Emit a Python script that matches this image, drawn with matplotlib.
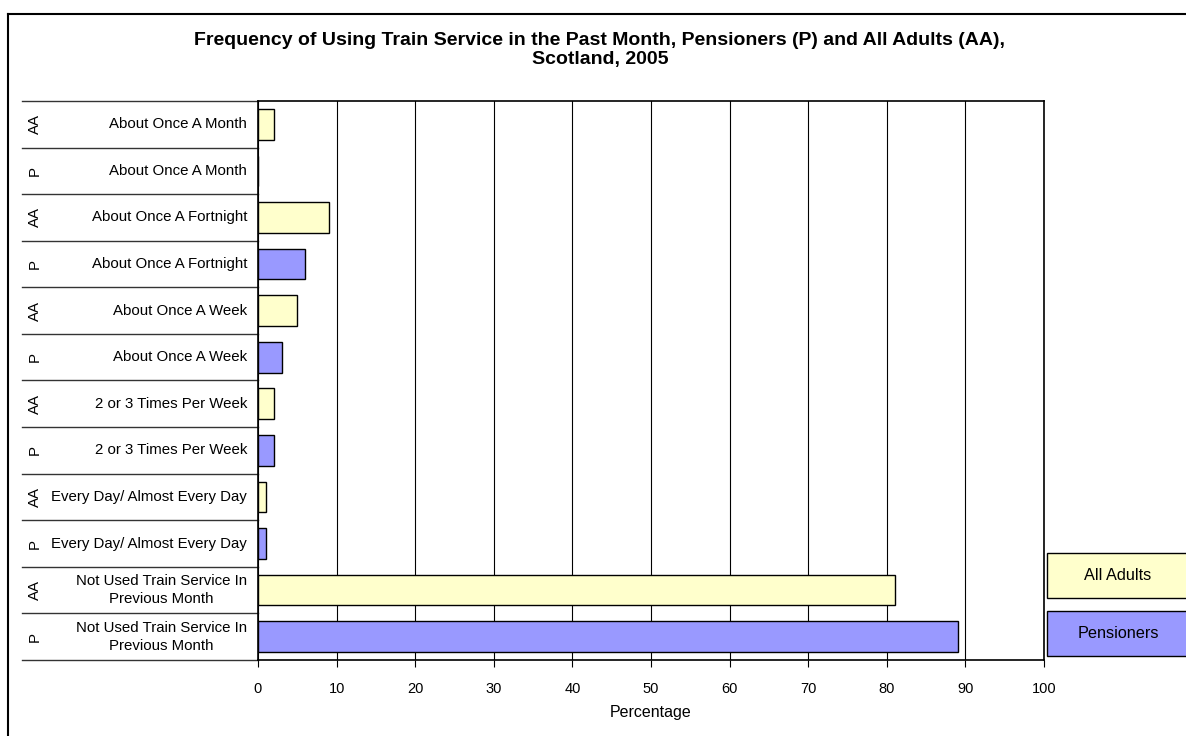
import matplotlib
matplotlib.use("Agg")
import matplotlib.pyplot as plt
from matplotlib.patches import Rectangle

plt.rcParams['font.family'] = ['Liberation Sans', 'DejaVu Sans']

# data, bottom row first
categories = [
    "Not Used Train Service In\nPrevious Month",
    "Not Used Train Service In\nPrevious Month",
    "Every Day/ Almost Every Day",
    "Every Day/ Almost Every Day",
    "2 or 3 Times Per Week",
    "2 or 3 Times Per Week",
    "About Once A Week",
    "About Once A Week",
    "About Once A Fortnight",
    "About Once A Fortnight",
    "About Once A Month",
    "About Once A Month",
]
groups = ["P", "AA", "P", "AA", "P", "AA", "P", "AA", "P", "AA", "P", "AA"]
values = [89, 81, 1, 1, 2, 2, 3, 5, 6, 9, 0, 2]
series_names = {"AA": "All Adults", "P": "Pensioners"}
series_colors = {"AA": "#FFFFCC", "P": "#9999FF"}
xticks = [0, 10, 20, 30, 40, 50, 60, 70, 80, 90, 100]

W, H = 1186, 736
fig = plt.figure(figsize=(W / 100, H / 100), dpi=100)

# outer chart frame (left and top edges visible)
fig.add_artist(plt.Line2D([8 / W, 8 / W], [0, 1 - 14 / H], color="black", lw=1.5))
fig.add_artist(plt.Line2D([8 / W, 1], [1 - 14 / H, 1 - 14 / H], color="black", lw=1.5))

ax_l, ax_r, ax_t, ax_b = 258, 1044, 101, 660
ax = fig.add_axes([ax_l / W, 1 - ax_b / H, (ax_r - ax_l) / W, (ax_b - ax_t) / H])

ypos = list(range(len(values)))
colors = [series_colors[g] for g in groups]
ax.barh(ypos, values, height=0.66, color=colors, edgecolor="black", linewidth=1, zorder=3)

ax.set_xlim(0, 100)
ax.set_ylim(-0.5, len(values) - 0.5)
ax.set_xticks(xticks)
ax.set_xticklabels([str(t) for t in xticks], fontsize=10.5)
ax.tick_params(axis="x", direction="out", length=5, pad=11)
ax.set_yticks([])
ax.grid(axis="x", color="black", linewidth=0.8, zorder=0)
for s in ax.spines.values():
    s.set_linewidth(1.2)
ax.set_xlabel("Percentage", fontsize=11.5, labelpad=6)

# category labels and row separators in the left label area
aw = ax_r - ax_l
trans = ax.get_yaxis_transform()
for i, (cat, g) in enumerate(zip(categories, groups)):
    ax.text(-11 / aw, i, cat, transform=trans, ha="right", va="center",
            fontsize=10.8, multialignment="center", linespacing=1.4)
    ax.text((35 - ax_l) / aw, i, g, transform=trans, ha="center", va="center",
            rotation=90, fontsize=10.8)
for b in range(len(values) + 1):
    ax.plot([(22 - ax_l) / aw, 0], [b - 0.5, b - 0.5], transform=trans, color="#333333",
            lw=1, clip_on=False)

# legend boxes on the right
for key, y0, y1 in [("AA", 553, 598), ("P", 611, 656)]:
    fig.add_artist(Rectangle((1047 / W, 1 - y1 / H), (W - 1047) / W + 0.01, (y1 - y0) / H,
                             facecolor=series_colors[key], edgecolor="black", lw=1,
                             transform=fig.transFigure))
    fig.text(1118 / W, 1 - (y0 + y1) / 2 / H, series_names[key], ha="center",
             va="center", fontsize=11.7)

fig.text(600 / W, 1 - 50 / H,
         "Frequency of Using Train Service in the Past Month, Pensioners (P) and All Adults (AA),\nScotland, 2005",
         ha="center", va="center", fontsize=14, fontweight="bold", linespacing=1.15)

fig.savefig("out.png", dpi=100)
